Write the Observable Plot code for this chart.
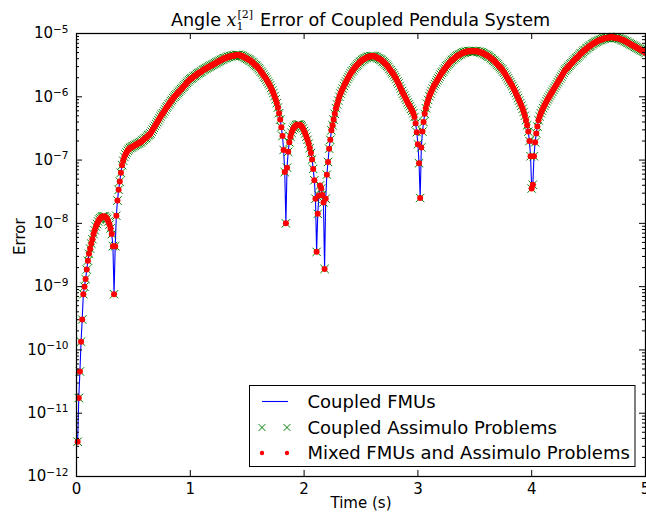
<!DOCTYPE html>
<html><head><meta charset="utf-8">
<script src="https://cdn.jsdelivr.net/npm/d3@7"></script>
<script src="https://cdn.jsdelivr.net/npm/@observablehq/plot@0.6"></script>
<style>
body{margin:0;background:#fff;}
#chart svg{font-family:"DejaVu Sans",sans-serif;}
</style></head><body><div id="chart"></div>
<script>
// sample spacing of the simulation output (s)
const timeStep = 0.01;
// log10 of the error, t = 0.01 ... 5.00
const log10Error = [
-11.45,-10.76,-10.34,-9.87,-9.52,-9.12,-9.00,-8.88,-8.73,-8.59,
-8.48,-8.40,-8.32,-8.25,-8.17,-8.11,-8.05,-8.01,-7.97,-7.94,
-7.92,-7.90,-7.89,-7.89,-7.89,-7.91,-7.93,-7.97,-8.02,-8.08,
-8.17,-8.36,-9.12,-8.36,-7.88,-7.64,-7.47,-7.34,-7.20,-7.08,
-7.01,-6.95,-6.91,-6.88,-6.85,-6.83,-6.81,-6.80,-6.79,-6.78,
-6.77,-6.76,-6.75,-6.74,-6.73,-6.72,-6.71,-6.69,-6.68,-6.66,
-6.65,-6.63,-6.61,-6.60,-6.58,-6.55,-6.52,-6.49,-6.46,-6.43,
-6.40,-6.37,-6.34,-6.31,-6.28,-6.26,-6.23,-6.20,-6.17,-6.15,
-6.12,-6.10,-6.07,-6.05,-6.02,-6.00,-5.98,-5.96,-5.94,-5.92,
-5.90,-5.88,-5.86,-5.84,-5.82,-5.80,-5.78,-5.76,-5.74,-5.72,
-5.71,-5.70,-5.68,-5.67,-5.66,-5.64,-5.63,-5.62,-5.61,-5.60,
-5.58,-5.57,-5.56,-5.55,-5.54,-5.53,-5.52,-5.51,-5.50,-5.49,
-5.48,-5.47,-5.46,-5.45,-5.44,-5.43,-5.42,-5.41,-5.40,-5.39,
-5.39,-5.38,-5.37,-5.37,-5.36,-5.36,-5.35,-5.35,-5.35,-5.34,
-5.34,-5.34,-5.34,-5.35,-5.35,-5.36,-5.37,-5.38,-5.39,-5.40,
-5.41,-5.42,-5.43,-5.45,-5.46,-5.48,-5.50,-5.51,-5.53,-5.55,
-5.57,-5.60,-5.62,-5.65,-5.68,-5.70,-5.73,-5.76,-5.79,-5.82,
-5.86,-5.90,-5.94,-5.99,-6.04,-6.10,-6.17,-6.26,-6.36,-6.48,
-6.62,-6.84,-7.19,-8.00,-7.12,-6.87,-6.72,-6.63,-6.57,-6.52,
-6.49,-6.47,-6.45,-6.44,-6.44,-6.44,-6.45,-6.47,-6.50,-6.54,
-6.58,-6.63,-6.68,-6.74,-6.81,-6.89,-6.99,-7.14,-7.32,-7.61,
-8.45,-7.85,-7.56,-7.40,-7.45,-7.55,-7.67,-8.72,-7.61,-7.23,
-7.03,-6.82,-6.68,-6.53,-6.45,-6.36,-6.27,-6.18,-6.12,-6.06,
-6.00,-5.95,-5.91,-5.87,-5.83,-5.79,-5.76,-5.72,-5.69,-5.66,
-5.63,-5.60,-5.58,-5.55,-5.53,-5.51,-5.49,-5.47,-5.45,-5.44,
-5.42,-5.41,-5.40,-5.39,-5.38,-5.37,-5.37,-5.36,-5.36,-5.36,
-5.36,-5.36,-5.37,-5.38,-5.39,-5.40,-5.41,-5.42,-5.44,-5.45,
-5.47,-5.49,-5.51,-5.53,-5.56,-5.58,-5.61,-5.63,-5.66,-5.69,
-5.72,-5.76,-5.79,-5.83,-5.87,-5.91,-5.95,-5.98,-6.02,-6.05,
-6.09,-6.12,-6.15,-6.19,-6.22,-6.26,-6.32,-6.42,-6.56,-6.75,
-7.05,-7.60,-6.80,-6.55,-6.40,-6.27,-6.18,-6.11,-6.05,-5.99,
-5.95,-5.91,-5.87,-5.83,-5.80,-5.77,-5.74,-5.71,-5.68,-5.65,
-5.62,-5.60,-5.57,-5.55,-5.52,-5.50,-5.48,-5.46,-5.44,-5.42,
-5.41,-5.39,-5.38,-5.36,-5.35,-5.34,-5.33,-5.32,-5.31,-5.30,
-5.30,-5.29,-5.29,-5.28,-5.28,-5.28,-5.28,-5.28,-5.28,-5.28,
-5.28,-5.28,-5.29,-5.29,-5.30,-5.30,-5.31,-5.32,-5.33,-5.34,
-5.35,-5.36,-5.37,-5.39,-5.40,-5.42,-5.43,-5.45,-5.47,-5.49,
-5.51,-5.53,-5.55,-5.57,-5.60,-5.62,-5.65,-5.68,-5.71,-5.74,
-5.77,-5.80,-5.83,-5.87,-5.90,-5.94,-5.98,-6.02,-6.06,-6.10,
-6.14,-6.19,-6.24,-6.30,-6.37,-6.45,-6.55,-6.70,-6.94,-7.45,
-7.39,-6.94,-6.72,-6.58,-6.47,-6.37,-6.31,-6.26,-6.22,-6.18,
-6.14,-6.11,-6.07,-6.04,-6.01,-5.98,-5.95,-5.92,-5.89,-5.86,
-5.83,-5.80,-5.77,-5.74,-5.71,-5.68,-5.65,-5.62,-5.59,-5.57,
-5.55,-5.53,-5.51,-5.49,-5.47,-5.45,-5.43,-5.41,-5.39,-5.38,
-5.36,-5.34,-5.32,-5.31,-5.29,-5.27,-5.26,-5.24,-5.23,-5.21,
-5.20,-5.19,-5.17,-5.16,-5.15,-5.14,-5.13,-5.12,-5.11,-5.10,
-5.10,-5.09,-5.08,-5.08,-5.07,-5.07,-5.07,-5.06,-5.06,-5.06,
-5.06,-5.06,-5.07,-5.07,-5.07,-5.08,-5.08,-5.09,-5.10,-5.10,
-5.11,-5.12,-5.13,-5.14,-5.15,-5.16,-5.17,-5.18,-5.19,-5.20,
-5.21,-5.22,-5.23,-5.24,-5.25,-5.26,-5.27,-5.28,-5.29,-5.31
];
const xTicks = [0, 1, 2, 3, 4, 5];
const yTickExponents = [-12, -11, -10, -9, -8, -7, -6, -5];
const seriesNames = ["Coupled FMUs", "Coupled Assimulo Problems", "Mixed FMUs and Assimulo Problems"];
const seriesColors = ["#0000ff", "#008000", "#ff0000"];
const titleText = "Angle";
const titleRest = "Error of Coupled Pendula System";
const xLabel = "Time (s)";
const yLabel = "Error";

// all three methods give the same error curve (they overlap in the chart)
const data = log10Error.map((v, i) => ({t: (i + 1) * timeStep, err: Math.pow(10, v)}));

const W = 646, H = 516, mL = 76, mR = 1, mT = 33, mB = 40;
const iw = W - mL - mR, ih = H - mT - mB;
const xR = 3.9, dotR = 3.0;
const yMajor = yTickExponents.map(e => Math.pow(10, e));
const yMinor = [];
yTickExponents.slice(0, -1).forEach(e => { for (let m = 2; m <= 9; m++) yMinor.push(m * Math.pow(10, e)); });

const plot = Plot.plot({
  width: W, height: H, marginLeft: mL, marginRight: mR, marginTop: mT, marginBottom: mB,
  style: {fontFamily: "DejaVu Sans", fontSize: "15px", color: "#000", background: "#fff"},
  x: {domain: [0, 5]},
  y: {type: "log", domain: [1e-12, 1e-5]},
  marks: [
    Plot.line(data, {x: "t", y: "err", stroke: seriesColors[0], strokeWidth: 1.1}),
    Plot.dot(data, {x: "t", y: "err", symbol: "times", r: xR, stroke: seriesColors[1], strokeWidth: 1}),
    Plot.dot(data, {x: "t", y: "err", r: dotR, fill: seriesColors[2], stroke: null}),
    Plot.tickX(xTicks, {x: d => d, insetTop: ih - 6, stroke: "#000"}),
    Plot.tickX(xTicks, {x: d => d, insetBottom: ih - 6, stroke: "#000"}),
    Plot.tickY(yMajor, {y: d => d, insetRight: iw - 6, stroke: "#000"}),
    Plot.tickY(yMajor, {y: d => d, insetLeft: iw - 6, stroke: "#000"}),
    Plot.tickY(yMinor, {y: d => d, insetRight: iw - 3, stroke: "#000"}),
    Plot.tickY(yMinor, {y: d => d, insetLeft: iw - 3, stroke: "#000"}),
    Plot.frame({stroke: "#000", strokeWidth: 1.25}),
    Plot.axisX({ticks: xTicks, tickSize: 0, tickPadding: 7, tickFormat: d => String(d), label: null}),
    Plot.axisY({ticks: yMajor, tickSize: 0, tickPadding: 8, tickFormat: d => String(Math.round(Math.log10(d))), label: null}),
    Plot.text([xLabel], {text: d => d, frameAnchor: "bottom", dy: 31, fontSize: 15}),
    Plot.text([yLabel], {text: d => d, frameAnchor: "left", dx: -56, rotate: -90, fontSize: 15})
  ]
});
document.getElementById("chart").appendChild(plot);
const svg = d3.select(plot);

// y tick labels as 10 with a raised exponent
svg.selectAll('[aria-label="y-axis tick label"] text').each(function() {
  const e = this.textContent.replace("-", "\u2212");
  const t = d3.select(this);
  t.text("");
  t.append("tspan").text("10");
  t.append("tspan").attr("font-size", "10.5px").attr("dy", "-0.55em").text(e);
});

// title with math
const title = svg.append("text").attr("x", (mL + W - mR) / 2).attr("y", 26)
  .attr("text-anchor", "middle").attr("font-size", "17.6px").attr("fill", "#000");
title.append("tspan").text(titleText + " ");
title.append("tspan").attr("font-family", "DejaVu Serif").attr("font-style", "italic").text("x");
title.append("tspan").attr("font-family", "DejaVu Serif").attr("font-size", "11px").attr("dy", 4).text("1");
title.append("tspan").attr("font-family", "DejaVu Serif").attr("font-size", "11px").attr("dx", -6).attr("dy", -12).text("[2]");
title.append("tspan").attr("dy", 8).attr("dx", 7).text(titleRest);

// legend
const lg = svg.append("g").attr("font-size", "18px").attr("text-anchor", "start");
lg.append("rect").attr("x", 249.5).attr("y", 385.5).attr("width", 385.5).attr("height", 81)
  .attr("fill", "#fff").attr("stroke", "#000").attr("stroke-width", 1);
const rowY = [401.5, 427.5, 453];
const mk = [262, 287];
lg.append("line").attr("x1", mk[0]).attr("x2", mk[1] + 1).attr("y1", rowY[0]).attr("y2", rowY[0])
  .attr("stroke", seriesColors[0]).attr("stroke-width", 1.1);
const timesPath = d3.symbol(d3.symbolTimes, Math.PI * 3.2 * 3.2)();
mk.forEach(x => {
  lg.append("path").attr("d", timesPath).attr("transform", `translate(${x},${rowY[1]})`)
    .attr("fill", "none").attr("stroke", seriesColors[1]).attr("stroke-width", 1);
  lg.append("circle").attr("cx", x).attr("cy", rowY[2]).attr("r", 2.2).attr("fill", seriesColors[2]);
});
seriesNames.forEach((n, i) => {
  lg.append("text").attr("x", 307.5).attr("y", rowY[i] + 6.2).attr("fill", "#000").text(n);
});
</script></body></html>
